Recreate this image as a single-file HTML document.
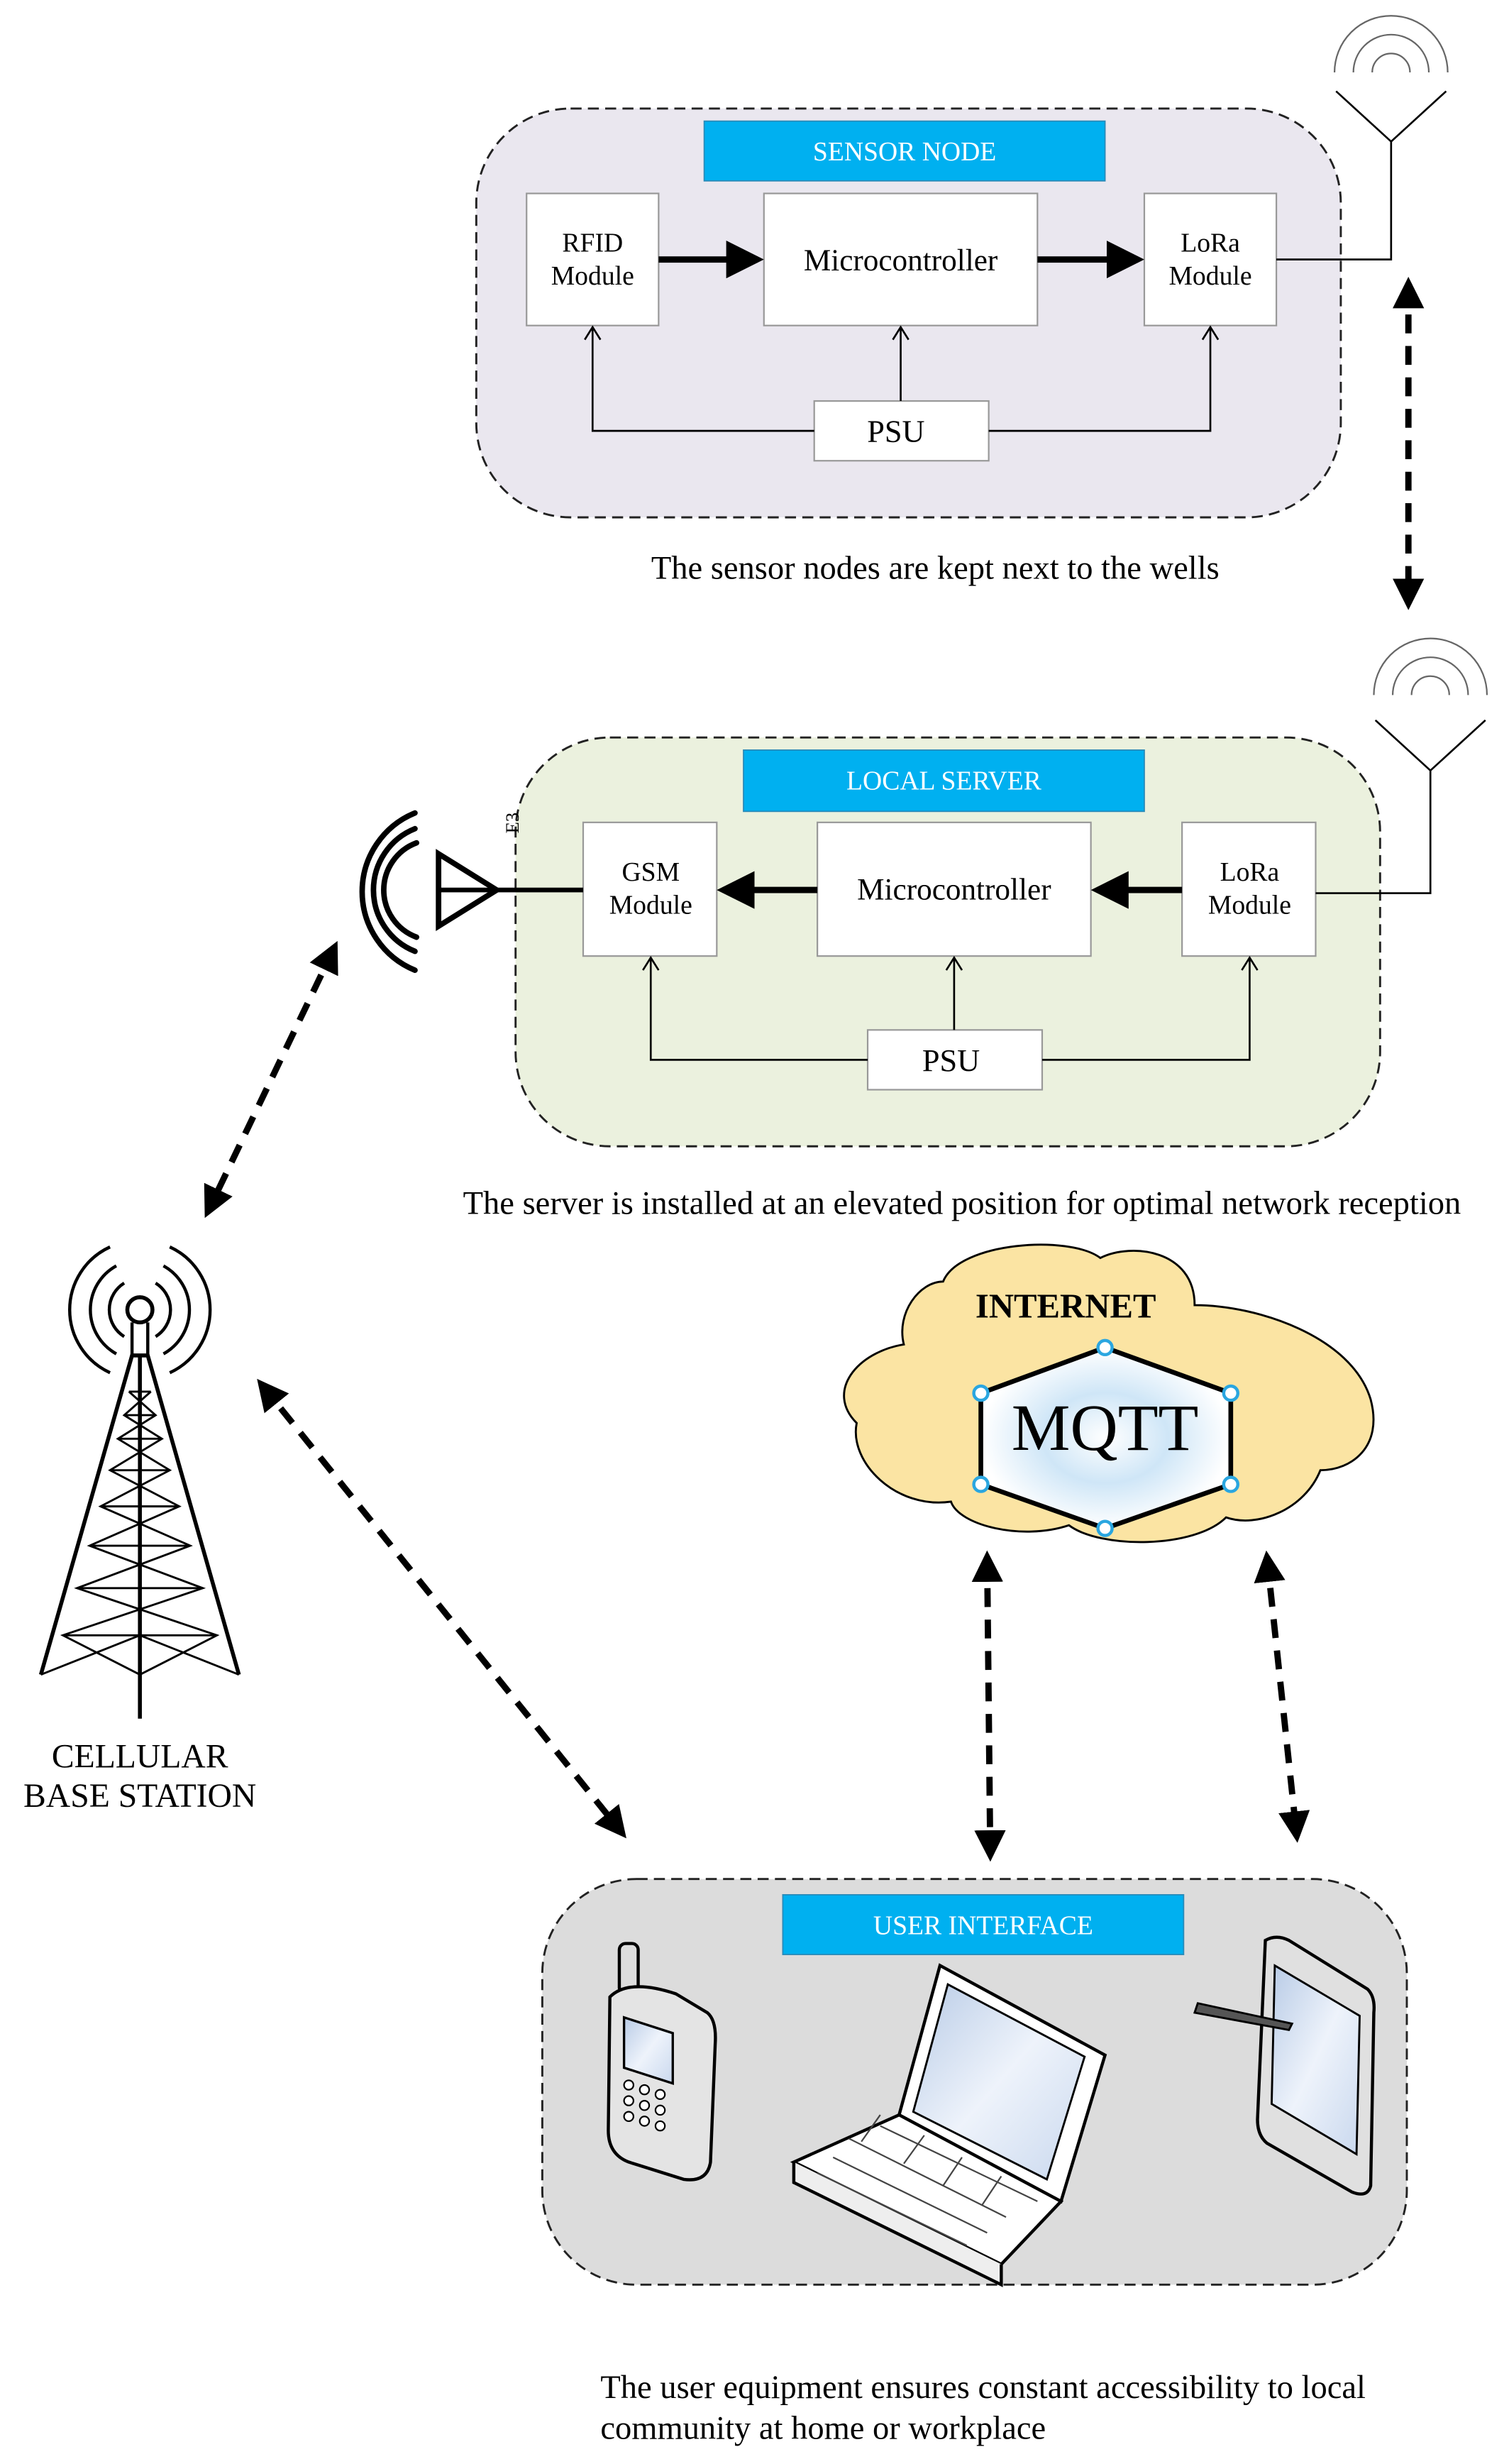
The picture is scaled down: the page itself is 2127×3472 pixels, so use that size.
<!DOCTYPE html>
<html><head><meta charset="utf-8"><style>
html,body{margin:0;padding:0;background:#fff}
svg{display:block}
text{font-family:"Liberation Serif",serif;fill:#000}
</style></head><body>
<svg width="2127" height="3472" viewBox="0 0 960 1567" xmlns="http://www.w3.org/2000/svg">
<defs>
<marker id="tha" markerWidth="6" markerHeight="6" refX="5" refY="3" orient="auto" markerUnits="strokeWidth"><path d="M0,0 L6,3 L0,6 z" fill="#000"/></marker>
<marker id="thin" markerWidth="12" markerHeight="12" refX="10" refY="6" orient="auto" markerUnits="userSpaceOnUse"><path d="M2,1 L10,6 L2,11" fill="none" stroke="#000" stroke-width="1.2"/></marker>
<marker id="da" markerWidth="5" markerHeight="5" refX="4" refY="2.5" orient="auto" markerUnits="strokeWidth"><path d="M0,0 L5,2.5 L0,5 z" fill="#000"/></marker>
<marker id="ds" markerWidth="5" markerHeight="5" refX="1" refY="2.5" orient="auto" markerUnits="strokeWidth"><path d="M5,0 L0,2.5 L5,5 z" fill="#000"/></marker>
<radialGradient id="mq" cx="50%" cy="50%" r="50%"><stop offset="0" stop-color="#fff"/><stop offset="0.5" stop-color="#cfe6f7"/><stop offset="1" stop-color="#fff"/></radialGradient>
<linearGradient id="scr" x1="0" y1="0" x2="1" y2="1"><stop offset="0" stop-color="#b8cbe6"/><stop offset="0.5" stop-color="#eef3fb"/><stop offset="1" stop-color="#c9d8ee"/></linearGradient>
</defs>

<!-- SENSOR NODE -->
<rect x="303" y="69" width="550" height="260" rx="60" fill="#eae7ef" stroke="#222" stroke-width="1.3" stroke-dasharray="7,4"/>
<rect x="448" y="77" width="255" height="38" fill="#00b0f0" stroke="#2a8ab8" stroke-width="0.8"/>
<text x="575.5" y="102" font-size="17" text-anchor="middle" style="fill:#fff">SENSOR NODE</text>
<g fill="#fff" stroke="#999" stroke-width="1">
<rect x="335" y="123" width="84" height="84"/><rect x="486" y="123" width="174" height="84"/><rect x="728" y="123" width="84" height="84"/><rect x="518" y="255" width="111" height="38"/>
</g>
<text x="377" y="160" font-size="17" text-anchor="middle">RFID</text><text x="377" y="181" font-size="17" text-anchor="middle">Module</text>
<text x="573" y="172" font-size="19.5" text-anchor="middle">Microcontroller</text>
<text x="770" y="160" font-size="17" text-anchor="middle">LoRa</text><text x="770" y="181" font-size="17" text-anchor="middle">Module</text>
<text x="570" y="281" font-size="20" text-anchor="middle">PSU</text>
<line x1="419" y1="165" x2="482" y2="165" stroke="#000" stroke-width="4" marker-end="url(#tha)"/>
<line x1="660" y1="165" x2="724" y2="165" stroke="#000" stroke-width="4" marker-end="url(#tha)"/>
<g fill="none" stroke="#000" stroke-width="1.2">
<polyline points="518,274 377,274 377,208" marker-end="url(#thin)"/>
<line x1="573" y1="255" x2="573" y2="208" marker-end="url(#thin)"/>
<polyline points="629,274 770,274 770,208" marker-end="url(#thin)"/>
<polyline points="812,165 885,165 885,90"/>
<polyline points="850,58 885,90 920,58"/>
<path d="M873,46 A12,12 0 0 1 897,46 M861,46 A24,24 0 0 1 909,46 M849,46 A36,36 0 0 1 921,46" stroke="#666" stroke-width="1"/>
</g>
<text x="595" y="368" font-size="21" text-anchor="middle">The sensor nodes are kept next to the wells</text>
<line x1="896" y1="180" x2="896" y2="384" stroke="#000" stroke-width="4" stroke-dasharray="12,8" marker-start="url(#ds)" marker-end="url(#da)"/>

<!-- LOCAL SERVER -->
<rect x="328" y="469" width="550" height="260" rx="60" fill="#ebf1de" stroke="#222" stroke-width="1.3" stroke-dasharray="7,4"/>
<rect x="473" y="477" width="255" height="39" fill="#00b0f0" stroke="#2a8ab8" stroke-width="0.8"/>
<text x="600.5" y="502" font-size="17" text-anchor="middle" style="fill:#fff">LOCAL SERVER</text>
<g fill="#fff" stroke="#999" stroke-width="1">
<rect x="371" y="523" width="85" height="85"/><rect x="520" y="523" width="174" height="85"/><rect x="752" y="523" width="85" height="85"/><rect x="552" y="655" width="111" height="38"/>
</g>
<text x="414" y="560" font-size="17" text-anchor="middle">GSM</text><text x="414" y="581" font-size="17" text-anchor="middle">Module</text>
<text x="607" y="572" font-size="19.5" text-anchor="middle">Microcontroller</text>
<text x="795" y="560" font-size="17" text-anchor="middle">LoRa</text><text x="795" y="581" font-size="17" text-anchor="middle">Module</text>
<text x="605" y="681" font-size="20" text-anchor="middle">PSU</text>
<line x1="520" y1="566" x2="460" y2="566" stroke="#000" stroke-width="4" marker-end="url(#tha)"/>
<line x1="752" y1="566" x2="698" y2="566" stroke="#000" stroke-width="4" marker-end="url(#tha)"/>
<g fill="none" stroke="#000" stroke-width="1.2">
<polyline points="552,674 414,674 414,609" marker-end="url(#thin)"/>
<line x1="607" y1="655" x2="607" y2="609" marker-end="url(#thin)"/>
<polyline points="663,674 795,674 795,609" marker-end="url(#thin)"/>
<polyline points="837,568 910,568 910,490"/>
<polyline points="875,458 910,490 945,458"/>
<path d="M898,442 A12,12 0 0 1 922,442 M886,442 A24,24 0 0 1 934,442 M874,442 A36,36 0 0 1 946,442" stroke="#666" stroke-width="1"/>
</g>
<text transform="translate(330,530) rotate(-90)" font-size="12">E3</text>
<!-- GSM antenna -->
<line x1="371" y1="566" x2="279" y2="566" stroke="#000" stroke-width="3"/>
<polygon points="279,543 316,566 279,589" fill="none" stroke="#000" stroke-width="3.5"/>
<g fill="none" stroke="#000" stroke-width="3.5" stroke-linecap="round">
<path d="M265,536 A32,32 0 0 0 265,596"/>
<path d="M264,527 A42,42 0 0 0 264,605"/>
<path d="M264,517 A54,54 0 0 0 264,617"/>
</g>
<text x="612" y="772" font-size="21" text-anchor="middle">The server is installed at an elevated position for optimal network reception</text>
<line x1="213" y1="602" x2="132" y2="771" stroke="#000" stroke-width="4" stroke-dasharray="12,8" marker-start="url(#ds)" marker-end="url(#da)"/>

<!-- Tower -->
<g fill="none" stroke="#000">
<circle cx="89" cy="833" r="8" stroke-width="2.5"/>
<path d="M79,816 A20,20 0 0 0 79,850 M99,816 A20,20 0 0 1 99,850" stroke-width="2"/>
<path d="M74,805 A32,32 0 0 0 74,861 M104,805 A32,32 0 0 1 104,861" stroke-width="2"/>
<path d="M70,793 A44,44 0 0 0 70,873 M108,793 A44,44 0 0 1 108,873" stroke-width="2"/>
<path d="M84,841 L84,862 M94,841 L94,862" stroke-width="2"/>
<line x1="89" y1="862" x2="89" y2="1093" stroke-width="2.5"/>
<polyline points="26,1065 84,862 94,862 152,1065" stroke-width="2.5"/>
<path d="M82,885 L96,885 M79,900 L99,900 M75,915 L103,915 M70,935 L108,935 M64,958 L114,958 M57,983 L121,983 M49,1010 L129,1010 M40,1040 L138,1040" stroke-width="1.3"/>
<path d="M82,885 L99,900 L75,915 L108,935 L64,958 L121,983 L49,1010 L138,1040 L89,1065 M96,885 L79,900 L103,915 L70,935 L114,958 L57,983 L129,1010 L40,1040 L89,1065" stroke-width="1.3"/>
<path d="M26,1065 L89,1040 L152,1065" stroke-width="1.3"/>
</g>
<text x="89" y="1124" font-size="21.5" text-anchor="middle">CELLULAR</text>
<text x="89" y="1149" font-size="21.5" text-anchor="middle">BASE STATION</text>
<line x1="166" y1="880" x2="396" y2="1166" stroke="#000" stroke-width="4" stroke-dasharray="12,8" marker-start="url(#ds)" marker-end="url(#da)"/>

<!-- Cloud -->
<path d="M600,815 C610,790 680,785 700,800 C720,790 760,795 760,830 C800,830 860,850 872,890 C880,920 860,935 840,935 C830,960 800,972 780,965 C760,985 700,985 680,970 C650,980 610,970 605,955 C570,960 540,930 545,905 C525,885 545,860 575,855 C570,835 585,815 600,815 Z" fill="#fbe4a3" stroke="#000" stroke-width="1.3"/>
<text x="678" y="838" font-size="22" font-weight="bold" text-anchor="middle">INTERNET</text>
<polygon points="703,857 783,886 783,944 703,972 624,944 624,886" fill="url(#mq)" stroke="#000" stroke-width="3"/>
<g fill="#fff" stroke="#2aa6e0" stroke-width="2"><circle cx="703" cy="857" r="4.5"/><circle cx="783" cy="886" r="4.5"/><circle cx="783" cy="944" r="4.5"/><circle cx="703" cy="972" r="4.5"/><circle cx="624" cy="944" r="4.5"/><circle cx="624" cy="886" r="4.5"/></g>
<text x="703" y="922" font-size="42" text-anchor="middle">MQTT</text>
<line x1="628" y1="990" x2="630" y2="1180" stroke="#000" stroke-width="4" stroke-dasharray="12,8" marker-start="url(#ds)" marker-end="url(#da)"/>
<line x1="806" y1="990" x2="825" y2="1168" stroke="#000" stroke-width="4" stroke-dasharray="12,8" marker-start="url(#ds)" marker-end="url(#da)"/>

<!-- USER INTERFACE -->
<rect x="345" y="1195" width="550" height="258" rx="60" fill="#dcdcdc" stroke="#222" stroke-width="1.3" stroke-dasharray="7,4"/>
<rect x="498" y="1205" width="255" height="38" fill="#00b0f0" stroke="#2a8ab8" stroke-width="0.8"/>
<text x="625.5" y="1230" font-size="17" text-anchor="middle" style="fill:#fff">USER INTERFACE</text>
<!-- phone -->
<g stroke="#000" stroke-width="2">
<rect x="394" y="1236" width="12" height="32" rx="4" fill="#ddd"/>
<path d="M388,1270 Q400,1258 430,1268 L450,1280 Q456,1285 455,1300 L452,1375 Q450,1388 435,1386 L400,1375 Q387,1370 387,1355 Z" fill="#e4e4e4"/>
<path d="M397,1283 L428,1293 L428,1325 L397,1315 Z" fill="url(#scr)" stroke-width="1.5"/>
<g fill="#fff" stroke-width="1"><circle cx="400" cy="1326" r="3"/><circle cx="410" cy="1329" r="3"/><circle cx="420" cy="1332" r="3"/><circle cx="400" cy="1336" r="3"/><circle cx="410" cy="1339" r="3"/><circle cx="420" cy="1342" r="3"/><circle cx="400" cy="1346" r="3"/><circle cx="410" cy="1349" r="3"/><circle cx="420" cy="1352" r="3"/></g>
</g>
<!-- laptop -->
<g stroke="#000" stroke-width="2">
<path d="M598,1250 L703,1307 L675,1400 L572,1345 Z" fill="#fff"/>
<path d="M603,1262 L690,1308 L666,1386 L581,1343 Z" fill="url(#scr)" stroke-width="1.3"/>
<path d="M572,1345 L675,1400 L637,1440 L505,1375 Z" fill="#fff"/>
<path d="M505,1375 L505,1388 L637,1453 L637,1440" fill="#eee"/>
<g stroke-width="1" stroke="#444"><path d="M540,1360 L640,1410 M530,1372 L628,1420 M520,1382 L615,1428 M560,1352 L660,1400 M548,1362 L560,1345 M575,1376 L588,1358 M600,1390 L612,1372 M625,1402 L637,1384"/></g>
</g>
<!-- tablet -->
<g stroke="#000" stroke-width="2">
<path d="M805,1234 Q812,1230 820,1234 L870,1265 Q875,1270 874,1280 L872,1390 Q870,1398 860,1394 L806,1363 Q800,1358 800,1348 Z" fill="#e0e0e0"/>
<path d="M811,1250 L865,1282 L863,1370 L809,1338 Z" fill="url(#scr)" stroke-width="1.3"/>
<path d="M762,1274 L822,1287 L820,1291 L760,1280 Z" fill="#555" stroke-width="1.3"/>
</g>

<text x="382" y="1525" font-size="21">The user equipment ensures constant accessibility to local</text>
<text x="382" y="1551" font-size="21">community at home or workplace</text>
</svg>
</body></html>
